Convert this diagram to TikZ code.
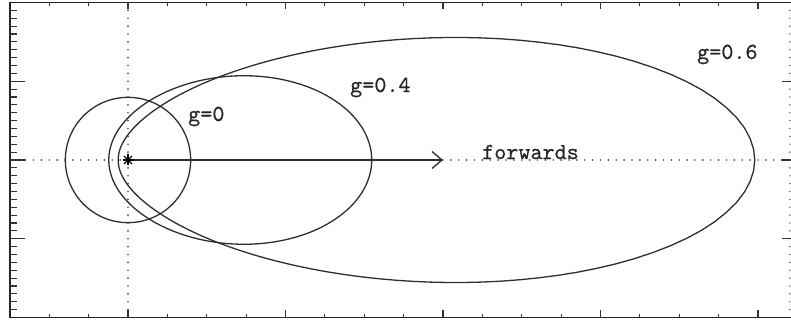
\documentclass[tikz,border=0pt]{standalone}
\usepackage{fontspec}
\newfontfamily\lbfont{lmmono10-regular.otf}[FakeBold=0.6]
\usetikzlibrary{arrows.meta}
\begin{document}
\begin{tikzpicture}[x=78.75pt,y=78.75pt,
  declare function={hgd(\t,\g)=1+\g*\g-2*\g*cos(\t);
                    hg(\t,\g)=10*(1-\g*\g)/(4*pi*hgd(\t,\g)*sqrt(hgd(\t,\g)));},
  frame/.style={line width=1.4pt, draw=black!85},
  curve/.style={line width=1.3pt, draw=black!82},
  tick/.style={line width=1.2pt, draw=black!80},
  dotline/.style={line width=1.9pt, draw=black!70, line cap=round, dash pattern=on 0pt off 7.875pt},
  lbl/.style={inner sep=0pt, anchor=base west, text=black!85, font=\fontsize{23}{23}\selectfont\lbfont}]
\useasboundingbox (-1.6254,-2.0825) rectangle (8.419,2.0317);
% coordinates
\coordinate (O) at (0,0);
\coordinate (T) at (4,0);
\coordinate (L) at (-1.5,0);
\coordinate (R) at (8.4,0);
\coordinate (Vt) at (0,2);
\coordinate (Vb) at (0,-2);
% dotted axes
\draw[dotline] (Vb) -- (Vt);
\draw[dotline] (L) -- (O);
\draw[dotline] (T) -- (R);
% frame
\draw[frame] (8.419,2) -- (-1.5,2) -- (-1.5,-2) -- (8.419,-2);
% left ticks
\foreach \i in {-19,...,19} {
  \pgfmathtruncatemacro{\m}{mod(abs(\i),10)}
  \ifnum\m=0
    \draw[tick] (-1.5,\i/10) -- ++(15pt,0);
  \else
    \draw[tick] (-1.5,\i/10) -- ++(7pt,0);
  \fi
}
% top and bottom ticks
\foreach \i in {-2,...,16} {
  \pgfmathtruncatemacro{\m}{mod(abs(\i),4)}
  \ifnum\m=0
    \draw[tick] (\i/2,2) -- ++(0,-7pt);
    \draw[tick] (\i/2,-2) -- ++(0,7pt);
  \else
    \draw[tick] (\i/2,2) -- ++(0,-3.5pt);
    \draw[tick] (\i/2,-2) -- ++(0,3.5pt);
  \fi
}
% right edge: cropped minor ticks (dots) and major ticks
\foreach \i in {-19,...,19} {
  \fill[black!60] (8.405,\i/10) circle (0.8pt);
}
\foreach \i in {-1,0,1} {
  \draw[tick] (8.419,\i) -- ++(-9pt,0);
}
% phase function curves
\draw[curve] plot[domain=0:360, samples=200, smooth cycle] (\x:{hg(\x,0)});
\draw[curve] plot[domain=0:359.5, samples=720, smooth cycle] (\x:{hg(\x,0.4)});
\draw[curve] plot[domain=0:359.5, samples=720, smooth cycle] (\x:{hg(\x,0.6)});
% arrow
\draw[curve, -{Straight Barb[length=10pt,width=17pt]}] (O) -- (T);
% star
\foreach \a in {0,45,90,135} {
  \draw[line width=1.1pt] (O) ++(\a:5.5pt) -- ++(\a+180:11pt);
}
% labels
\node[lbl] (g0) at (0.762,0.495) {g=0};
\node[lbl] (g4) at (2.819,0.863) {g=0.4};
\node[lbl] (g6) at (7.225,1.283) {g=0.6};
\node[lbl] (fw) at (4.495,0.012) {forwards};
\end{tikzpicture}
\end{document}
